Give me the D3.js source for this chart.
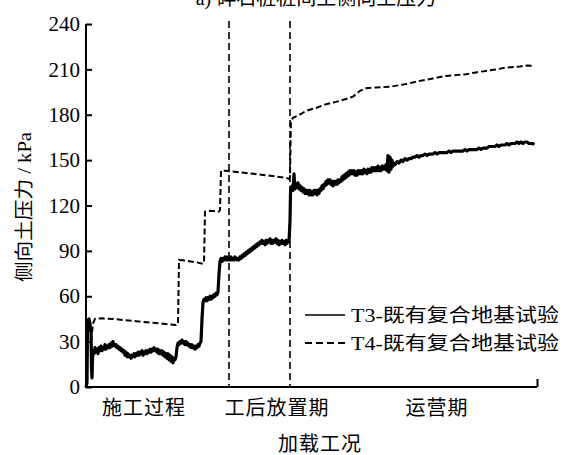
<!DOCTYPE html>
<html>
<head>
<meta charset="utf-8">
<script src="https://cdn.jsdelivr.net/npm/d3@7/dist/d3.min.js"></script>
<style>
  html, body { margin: 0; padding: 0; background: #fff; }
  svg { display: block; }
  .serif { font-family: "Liberation Serif", "Times New Roman", "Noto Sans CJK SC", serif; }
  .cjk { font-family: "Liberation Serif", "Noto Sans CJK SC", sans-serif; }
</style>
</head>
<body>
<svg id="chart" width="563" height="455"></svg>
<script>
// ---- data -------------------------------------------------------------
const chartTitle = "a) 碎石桩桩间土侧向土压力";
const yAxisTitle = "侧向土压力 / kPa";
const xAxisTitle = "加载工况";
const yTicks = [0, 30, 60, 90, 120, 150, 180, 210, 240];
const phaseLabels = ["施工过程", "工后放置期", "运营期"];
const phaseLabelSteps = [58, 191, 351];       // label centres on the step axis
const phaseBoundaries = [143, 204];           // end of construction / end of rest period
const seriesNames = ["T3-既有复合地基试验", "T4-既有复合地基试验"];

// T3 readings: [step, kPa]
const t3Readings = [
  [0,0],[1,3],[1.5,40],[2,44],[3,45],[4,42],[4.5,37],[5,38],[5.5,12],[6,6],[6.5,18],[7,24],[8,22],[9,26],[10,23],
  [11,25],[12,22],[13,26],[14,24],[15,27],[16,24],[17,26],[18,25],[19,28],[20,25],[21,27],[22,26],[23,28],[24,26],
  [25,29],[26,27],[27,30],[28,28],[29,27],[30,28],[31,26],[32,27],[33,25],[34,26],[35,24],[36,25],[37,23],[38,24],
  [39,21],[40,23],[41,20],[42,22],[43,20],[44,21],[45,19],[46,21],[47,20],[48,22],[49,20],[50,22],[51,21],[52,23],
  [53,21],[54,23],[55,22],[56,24],[57,21],[58,23],[59,22],[60,24],[61,22],[62,24],[63,23],[64,25],[65,23],[66,25],
  [67,24],[68,26],[69,24],[70,25],[71,23],[72,25],[73,22],[74,24],[75,22],[76,24],[77,21],[78,23],[79,20],[80,22],
  [81,19],[82,22],[83,18],[84,21],[85,17],[86,20],[87,16],[88,19],[89,18],[90,20],
  [91,26],[92,29],[93,28],[94,30],[95,29],[96,31],[97,29],[98,30],[99,28],[100,30],[101,28],[102,29],[103,27],
  [104,28],[105,26],[106,28],[107,26],[108,27],[109,25],[110,27],[111,26],[112,28],[113,27],[114,29],[115,30],
  [116,45],[117,56],[118,58],[119,57],[120,59],[121,57],[122,59],[123,58],[124,60],[125,58],[126,60],[127,59],
  [128,61],[129,60],[130,62],[131,61],[132,63],
  [133,75],[134,83],[135,85],[136,83],[137,85],[138,84],[139,86],[140,84],[141,86],[142,84],[143,85],[144,84],
  [145,86],[146,84],[147,85],[148,84],[149,86],[150,85],[151,84],[152,85],[153,84],[154,86],[155,85],[156,87],
  [157,86],[158,88],[159,87],[160,89],[161,88],[162,90],[163,89],[164,91],[165,90],[166,92],[167,91],[168,93],
  [169,92],[170,94],[171,93],[172,95],[173,94],[174,96],[175,95],[176,97],[177,95],[178,96],[179,94],[180,97],
  [181,95],[182,97],[183,96],[184,98],[185,95],[186,97],[187,95],[188,97],[189,96],[190,98],[191,95],[192,97],
  [193,94],[194,96],[195,95],[196,97],[197,95],[198,96],[199,94],[200,97],[201,95],[202,97],[203,96],
  [204,110],[204.5,128],[205,131],[206,133],[207,130],[208,141],[209,131],[210,134],[211,132],[212,135],[213,131],
  [214,133],[215,130],[216,132],[217,129],[218,131],[219,128],[220,130],[221,128],[222,130],[223,127],[224,130],
  [225,127],[226,129],[227,127],[228,130],[229,128],[230,130],[231,127],[232,130],[233,128],[234,131],[235,130],
  [236,133],[237,131],[238,134],[239,133],[240,136],[241,134],[242,137],[243,135],[244,137],[245,134],[246,136],
  [247,133],[248,136],[249,134],[250,136],[251,134],[252,137],[253,135],[254,137],[255,136],[256,139],[257,137],
  [258,140],[259,138],[260,141],[261,139],[262,142],[263,140],[264,143],[265,141],[266,143],[267,141],[268,143],
  [269,140],[270,142],[271,140],[272,143],[273,141],[274,143],[275,141],[276,143],[277,141],[278,144],[279,142],
  [280,143],[281,141],[282,144],[283,142],[284,144],[285,142],[286,145],[287,143],[288,145],[289,143],[290,145],
  [291,143],[292,146],[293,143],[294,145],[295,143],[296,146],[297,144],[298,146],[299,144],[300,147],[301,143],
  [302,153],[303,142],[304,152],[305,144],[306,150],[307,146],[308,148],[309,147],[311,149],[313,148],[315,150],
  [317,149],[319,151],[321,150],[323,151],[325,151],[327,152],[329,152],[331,153],[333,152],[335,153],[337,153],
  [339,154],[341,153],[343,154],[345,154],[347,154],[349,155],[351,154],[353,155],[355,155],[357,155],[359,155],
  [361,155],[363,156],[365,155],[367,156],[369,156],[371,156],[373,156],[375,156],[377,156],[379,157],[381,156],
  [383,157],[385,157],[387,157],[389,157],[391,157],[393,158],[395,157],[397,158],[399,158],[401,158],[403,159],
  [405,159],[407,159],[409,159],[411,160],[413,159],[415,160],[417,160],[419,160],[421,161],[423,160],[425,161],
  [427,161],[429,161],[431,162],[433,161],[435,162],[437,161],[439,162],[441,162],[443,161],[445,161],[447,161],
  [448,160]
];

// T4 readings: [step, kPa]
const t4Readings = [
  [5,30],[7,42],[9,45],[15,45.5],[30,44.8],[50,43.5],[70,42.3],[90,41],[92,41.5],
  [93,84],[100,83.5],[110,82.5],[117,81.5],[118,82],
  [119,116],[125,116.5],[133,116],[134,117],
  [135,143],[140,143],[160,141.5],[180,140],[200,138.3],[203,137.5],[204,139],
  [204.5,160],[205,176],[207,178],[215,180.5],[220,182.6],[230,184.5],[240,187],[250,188.5],[260,190.4],
  [267,192],[274,195.8],[280,197.6],[290,198],[304,198.5],[313,199.5],[320,200.3],[334,202.4],[347,204],
  [360,205.7],[370,206.2],[380,206.8],[390,208],[400,209],[410,210],[420,211.2],[434,211.9],[441,212.6],[447,212.4]
];

// ---- layout -------------------------------------------------------------
const svg = d3.select("#chart");
const plot = { left: 86, right: 537, top: 24, bottom: 387 };

const x = d3.scaleLinear().domain([0, 451]).range([plot.left, plot.right]);
const y = d3.scaleLinear().domain([0, 240]).range([plot.bottom, plot.top]);

// title (sits partly above the visible area)
svg.append("text")
  .attr("class", "cjk")
  .attr("x", 316).attr("y", 5)
  .attr("text-anchor", "middle")
  .attr("font-size", 20)
  .text(chartTitle);

// phase separators
svg.append("g").selectAll("line")
  .data(phaseBoundaries)
  .join("line")
  .attr("x1", d => x(d)).attr("x2", d => x(d))
  .attr("y1", plot.top - 3).attr("y2", plot.bottom)
  .attr("stroke", "#000")
  .attr("stroke-width", 1.6)
  .attr("stroke-dasharray", "7,4");

// series
const line = d3.line().x(d => x(d[0])).y(d => y(d[1]));

svg.append("path")
  .datum(t4Readings)
  .attr("d", line)
  .attr("fill", "none")
  .attr("stroke", "#000")
  .attr("stroke-width", 2)
  .attr("stroke-dasharray", "6,3");

svg.append("path")
  .datum(t3Readings)
  .attr("d", line)
  .attr("fill", "none")
  .attr("stroke", "#000")
  .attr("stroke-width", 3.2)
  .attr("stroke-linejoin", "round");

// y axis: ticks point into the plot
const yAxis = d3.axisLeft(y)
  .tickValues(yTicks)
  .tickSize(-6)
  .tickPadding(6)
  .tickFormat(d3.format("d"));

const gy = svg.append("g")
  .attr("transform", `translate(${plot.left},0)`)
  .call(yAxis);
gy.select(".domain").attr("stroke-width", 2).attr("d", `M0,${plot.top}V${plot.bottom}`);
gy.selectAll(".tick line").attr("stroke-width", 2);
gy.selectAll(".tick text")
  .attr("class", "serif")
  .attr("font-size", 21)
  .attr("fill", "#000");

// x axis: plain baseline with a closing tick at the far end
const xAxis = d3.axisBottom(x).tickValues([451]).tickSize(-8).tickFormat("");
const gx = svg.append("g")
  .attr("transform", `translate(0,${plot.bottom})`)
  .call(xAxis);
gx.select(".domain").attr("stroke-width", 2).attr("d", `M${plot.left - 1},0H${plot.right}`);
gx.selectAll(".tick line").attr("stroke-width", 2);

// phase labels
svg.append("g").selectAll("text")
  .data(phaseLabels)
  .join("text")
  .attr("class", "cjk")
  .attr("x", (d, i) => x(phaseLabelSteps[i]))
  .attr("y", 408)
  .attr("text-anchor", "middle")
  .attr("dominant-baseline", "central")
  .attr("font-size", 20)
  .attr("letter-spacing", 1)
  .text(d => d);

// axis titles
svg.append("text")
  .attr("class", "cjk")
  .attr("x", 320).attr("y", 444)
  .attr("text-anchor", "middle")
  .attr("dominant-baseline", "central")
  .attr("font-size", 20)
  .attr("letter-spacing", 1)
  .text(xAxisTitle);

svg.append("text")
  .attr("class", "cjk")
  .attr("transform", "translate(24,282) rotate(-90)")
  .attr("dominant-baseline", "central")
  .attr("font-size", 19)
  .attr("textLength", 150)
  .attr("lengthAdjust", "spacingAndGlyphs")
  .text(yAxisTitle);

// legend
const legend = svg.append("g").attr("transform", "translate(305,315)");
const legendRows = legend.selectAll("g")
  .data(seriesNames)
  .join("g")
  .attr("transform", (d, i) => `translate(0,${i * 28})`);
legendRows.append("line")
  .attr("x1", 0).attr("x2", 40)
  .attr("stroke", "#000")
  .attr("stroke-width", (d, i) => i === 0 ? 1.5 : 1.8)
  .attr("stroke-dasharray", (d, i) => i === 0 ? null : "7,4");
legendRows.append("text")
  .attr("class", "cjk")
  .attr("x", 46)
  .attr("dominant-baseline", "central")
  .attr("font-size", 19)
  .attr("textLength", 208)
  .attr("lengthAdjust", "spacingAndGlyphs")
  .text(d => d);
</script>
</body>
</html>
